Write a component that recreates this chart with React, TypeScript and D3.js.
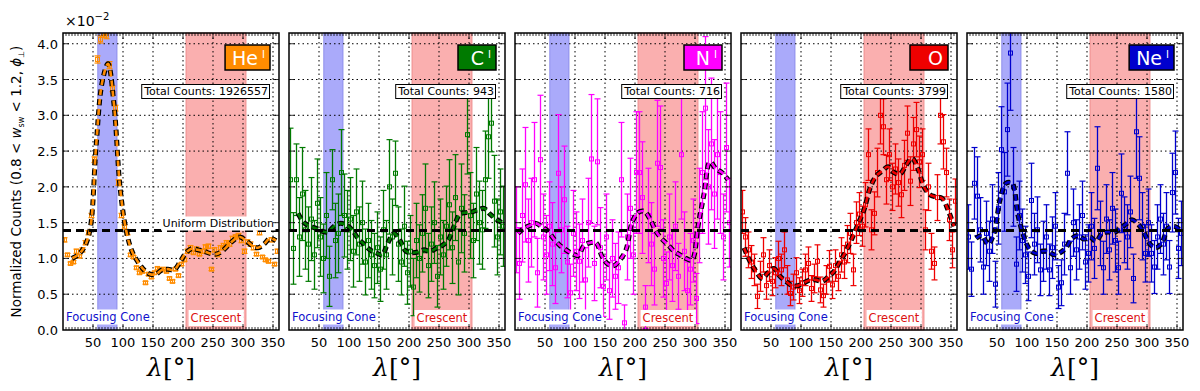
import React, { useEffect, useRef } from "react";
import * as d3 from "d3";

// bin centres (5 deg bins) and the 10 deg grid of the smoothed curve
const bins = d3.range(2.5, 360, 5);
const smoothBins = d3.range(5, 360, 10);

const xTicks = [50, 100, 150, 200, 250, 300, 350];
const yTicks = [0, 0.5, 1.0, 1.5, 2.0, 2.5, 3.0, 3.5, 4.0];

const ions = ["He", "C", "N", "O", "Ne"];
const ionSup = ["I", "I", "I", "", "I"];
const totalCounts = [1926557, 943, 716, 3799, 1580];
const ionColors = ["#ff8c00", "#007a00", "#ff00ff", "#ee0000", "#0000cd"];

const uniformLevel = 1.389;
const focusingCone = [58, 90];
const crescent = [205, 305];

// He (x1e-2)
const heVal = [1.26, 1.05, 0.93, 0.95, 1.1, 1.03, 1.12, 1.22, 1.36, 1.6, 2.38, 3.78, 4.06, 4.14, 4.12, 3.7, 3.37, 3.1, 2.06, 1.6, 1.44, 1.36, 1.05, 1.02, 0.87, 0.8, 0.82, 0.66, 0.78, 0.74, 0.8, 0.86, 0.84, 0.85, 0.82, 0.72, 0.68, 0.85, 0.76, 0.92, 0.98, 1.1, 1.15, 1.08, 1.13, 1.06, 1.1, 1.16, 1.17, 0.85, 1.12, 1.05, 1.15, 1.18, 1.22, 1.2, 1.28, 1.3, 1.32, 1.25, 1.1, 1.23, 1.2, 1.15, 1.06, 1.36, 1.02, 0.98, 0.96, 1.26, 0.92, 1.1];
const heErr = [0.03, 0.02, 0.02, 0.02, 0.03, 0.02, 0.03, 0.03, 0.03, 0.03, 0.04, 0.05, 0.05, 0.05, 0.05, 0.05, 0.04, 0.04, 0.04, 0.03, 0.03, 0.03, 0.02, 0.02, 0.02, 0.02, 0.02, 0.02, 0.02, 0.02, 0.02, 0.02, 0.02, 0.02, 0.02, 0.02, 0.02, 0.02, 0.02, 0.02, 0.02, 0.03, 0.03, 0.02, 0.03, 0.02, 0.03, 0.03, 0.03, 0.02, 0.03, 0.02, 0.03, 0.03, 0.03, 0.03, 0.03, 0.03, 0.03, 0.03, 0.03, 0.03, 0.03, 0.03, 0.02, 0.03, 0.02, 0.02, 0.02, 0.03, 0.02, 0.03];
const heSmooth = [null, 1.0, 1.05, 1.15, 1.4, 2.55, 3.45, 3.72, 3.15, 2.0, 1.4, 1.1, 0.95, 0.84, 0.78, 0.78, 0.84, 0.85, 0.84, 0.95, 1.08, 1.14, 1.12, 1.1, 1.07, 1.06, 1.1, 1.18, 1.26, 1.3, 1.25, 1.18, 1.15, 1.2, 1.28, 1.25];

// C
const cVal = [2.1, 1.14, 2.1, 1.3, 1.9, 1.4, 1.2, 1.55, 1.05, 1.77, 1.3, 1.0, 1.6, 0.75, 2.1, 1.25, 1.35, 2.2, 1.6, 1.4, 1.55, 1.1, 1.65, 1.2, 1.5, 0.95, 1.25, 1.05, 0.9, 1.15, 0.85, 1.4, 1.05, 2.0, 1.3, 2.19, 1.2, 0.95, 1.45, 0.8, 1.1, 0.6, 1.25, 1.0, 1.35, 1.7, 0.9, 1.2, 1.5, 0.75, 1.3, 1.05, 1.45, 1.75, 1.15, 1.85, 0.95, 1.7, 1.35, 2.73, 1.6, 1.25, 1.9, 1.5, 1.4, 2.1, 2.7, 2.89, 1.8, 1.3, 1.65, 1.45];
const cErr = [0.72, 0.5, 0.5, 0.55, 0.65, 0.55, 0.52, 0.58, 0.48, 0.62, 0.55, 0.48, 0.6, 0.42, 0.42, 0.52, 0.55, 0.6, 0.58, 0.55, 0.58, 0.5, 0.6, 0.52, 0.58, 0.46, 0.52, 0.48, 0.45, 0.5, 0.45, 0.55, 0.48, 0.66, 0.53, 0.45, 0.52, 0.46, 0.56, 0.44, 0.5, 0.4, 0.52, 0.47, 0.54, 0.62, 0.45, 0.52, 0.57, 0.43, 0.53, 0.48, 0.56, 0.63, 0.5, 0.6, 0.46, 0.62, 0.54, 0.55, 0.6, 0.52, 0.65, 0.58, 0.55, 0.68, 0.58, 0.4, 0.64, 0.53, 0.6, 0.56];
const cSmooth = [null, 1.63, 1.5, 1.45, 1.42, 1.38, 1.37, 1.45, 1.49, 1.47, 1.4, 1.28, 1.2, 1.12, 1.08, 1.05, 1.22, 1.35, 1.25, 1.1, 1.08, 1.09, 1.12, 1.1, 1.14, 1.18, 1.25, 1.45, 1.62, 1.64, 1.65, 1.68, 1.7, 1.62, 1.55, 1.5];

// N
const nVal = [1.4, 0.93, 1.6, 2.03, 1.25, 1.5, 2.1, 0.8, 2.38, 1.3, 1.05, 1.45, 1.2, 0.87, 2.19, 1.4, 1.82, 0.95, 0.52, 1.35, 1.1, 0.96, 1.25, 0.7, 1.5, 2.39, 0.93, 2.35, 1.15, 0.61, 1.3, 0.55, 1.0, 0.75, 0.87, 2.1, 0.1, 1.3, 1.7, 1.05, 2.2, 2.2, 1.85, 0.32, 1.6, 1.2, 0.85, 2.33, 2.27, 1.0, 0.65, 1.3, 0.9, 1.45, 0.75, 2.45, 1.1, 0.55, 0.85, 1.25, 0.44, 1.6, 2.2, 3.1, 2.0, 2.6, 1.9, 2.45, 2.2, 1.3, 2.55, 1.5];
const nErr = [0.6, 0.5, 0.65, 0.8, 0.58, 0.62, 0.8, 0.48, 0.9, 0.6, 0.55, 0.62, 0.58, 0.5, 0.82, 0.6, 0.75, 0.5, 0.4, 0.6, 0.55, 0.52, 0.58, 0.45, 0.62, 0.9, 0.52, 0.88, 0.56, 0.42, 0.6, 0.4, 0.54, 0.46, 0.5, 0.8, 0.25, 0.6, 0.7, 0.55, 0.85, 0.85, 0.78, 0.3, 0.66, 0.58, 0.5, 0.88, 0.86, 0.54, 0.44, 0.6, 0.5, 0.62, 0.46, 0.9, 0.55, 0.4, 0.5, 0.58, 0.35, 0.66, 0.85, 1.0, 0.8, 0.92, 0.76, 0.9, 0.85, 0.6, 0.9, 0.62];
const nSmooth = [1.35, 1.42, 1.46, 1.49, 1.44, 1.38, 1.27, 1.18, 1.12, 1.07, 1.04, 1.18, 1.22, 1.22, 1.03, 0.92, 0.9, 0.98, 1.12, 1.5, 1.64, 1.66, 1.55, 1.38, 1.27, 1.19, 1.1, 1.05, 1.0, 0.98, 1.45, 1.9, 2.35, 2.25, 2.2, 2.1];

// O
const oVal = [1.65, 1.3, 1.12, 0.95, 0.84, 0.47, 0.75, 1.05, 0.62, 0.9, 0.68, 0.8, 1.0, 0.84, 1.12, 0.7, 0.51, 0.6, 0.8, 0.55, 0.66, 0.84, 0.93, 0.58, 0.72, 0.96, 0.56, 0.48, 0.7, 0.89, 0.63, 0.9, 0.75, 1.05, 0.95, 1.2, 1.35, 0.84, 1.5, 1.62, 1.45, 1.75, 2.45, 1.4, 1.63, 2.2, 3.0, 2.84, 2.1, 2.45, 2.0, 2.25, 2.06, 1.89, 2.3, 2.75, 2.08, 2.6, 2.8, 2.35, 2.45, 1.4, 2.0, 1.1, 0.93, 1.85, 3.0, 2.63, 2.2, 1.54, 1.12, 1.8];
const oErr = [0.3, 0.27, 0.25, 0.23, 0.22, 0.17, 0.21, 0.24, 0.19, 0.22, 0.2, 0.21, 0.24, 0.22, 0.25, 0.2, 0.17, 0.18, 0.21, 0.18, 0.19, 0.22, 0.23, 0.18, 0.2, 0.23, 0.18, 0.16, 0.2, 0.22, 0.19, 0.22, 0.2, 0.24, 0.23, 0.26, 0.28, 0.22, 0.29, 0.3, 0.28, 0.31, 0.36, 0.28, 0.3, 0.34, 0.4, 0.39, 0.34, 0.36, 0.33, 0.35, 0.33, 0.32, 0.35, 0.38, 0.34, 0.37, 0.38, 0.36, 0.36, 0.28, 0.33, 0.25, 0.23, 0.32, 0.4, 0.38, 0.34, 0.29, 0.25, 0.31];
const oSmooth = [1.15, 0.96, 0.82, 0.72, 0.8, 0.86, 0.75, 0.68, 0.62, 0.62, 0.66, 0.7, 0.7, 0.68, 0.74, 0.82, 0.96, 1.1, 1.28, 1.48, 1.68, 1.98, 2.15, 2.22, 2.28, 2.2, 2.18, 2.3, 2.4, 2.25, 2.0, 1.89, 1.86, 1.84, 1.68, 1.45];

// Ne
const neVal = [1.3, 0.85, 2.05, 1.87, 1.4, 0.88, 1.35, 1.1, 1.55, 0.64, 1.7, 2.52, 1.93, 2.8, 3.87, 2.0, 0.92, 1.6, 1.25, 1.05, 0.75, 1.81, 1.2, 1.4, 0.84, 1.1, 1.3, 0.84, 1.15, 1.45, 0.6, 0.66, 1.2, 2.19, 0.87, 1.5, 1.12, 1.3, 1.6, 0.95, 1.07, 1.45, 1.14, 2.26, 1.35, 0.87, 1.55, 1.12, 1.7, 1.25, 0.87, 1.91, 1.4, 1.3, 1.65, 0.72, 2.77, 2.12, 1.45, 1.07, 1.5, 1.07, 0.88, 1.3, 1.55, 1.2, 1.45, 0.88, 1.92, 2.2, 1.14, 1.35];
const neErr = [0.45, 0.38, 0.5, 0.55, 0.45, 0.38, 0.45, 0.42, 0.48, 0.32, 0.5, 0.6, 0.55, 0.65, 0.8, 0.55, 0.38, 0.48, 0.44, 0.4, 0.34, 0.52, 0.43, 0.46, 0.36, 0.42, 0.45, 0.36, 0.43, 0.47, 0.3, 0.32, 0.43, 0.58, 0.37, 0.47, 0.42, 0.45, 0.48, 0.38, 0.4, 0.47, 0.42, 0.58, 0.45, 0.37, 0.48, 0.42, 0.5, 0.44, 0.37, 0.55, 0.46, 0.45, 0.5, 0.34, 0.65, 0.58, 0.47, 0.4, 0.47, 0.4, 0.37, 0.45, 0.48, 0.43, 0.47, 0.37, 0.55, 0.58, 0.42, 0.45];
const neSmooth = [null, 1.28, 1.32, 1.2, 1.35, 1.82, 2.05, 2.05, 1.6, 1.3, 1.12, 1.07, 1.1, 1.1, 1.05, 1.08, 1.15, 1.28, 1.32, 1.27, 1.3, 1.24, 1.35, 1.37, 1.36, 1.42, 1.48, 1.54, 1.48, 1.36, 1.2, 1.15, 1.22, 1.42, 1.45, 1.4];

const values = [heVal, cVal, nVal, oVal, neVal];
const errors = [heErr, cErr, nErr, oErr, neErr];
const smooths = [heSmooth, cSmooth, nSmooth, oSmooth, neSmooth];

const W = 1200;
const H = 391;

const App = () => {
  const svgRef = useRef(null);

  useEffect(() => {
    const svg = d3.select(svgRef.current);
    svg.selectAll("*").remove();

    const font = "DejaVu Sans, sans-serif";
    const top = 33;
    const bottom = 330;
    const panelW = 216;
    const step = 226;
    const y = d3.scaleLinear().domain([0, 4.15]).range([bottom, top]);

    ions.forEach((ion, i) => {
      const left = 63 + i * step;
      const right = left + panelW;
      const x = d3.scaleLinear().domain([0, 360]).range([left, right]);
      const color = ionColors[i];
      const g = svg.append("g");

      const clipId = `clip-${i}`;
      g.append("clipPath").attr("id", clipId)
        .append("rect").attr("x", left).attr("y", top).attr("width", panelW).attr("height", bottom - top);

      // shaded regions
      g.append("rect")
        .attr("x", x(focusingCone[0])).attr("y", top)
        .attr("width", x(focusingCone[1]) - x(focusingCone[0])).attr("height", bottom - top)
        .attr("fill", "rgb(170,170,250)").attr("stroke", "rgb(130,130,230)").attr("stroke-width", 0.8);
      g.append("rect")
        .attr("x", x(crescent[0])).attr("y", top)
        .attr("width", x(crescent[1]) - x(crescent[0])).attr("height", bottom - top)
        .attr("fill", "rgb(250,175,175)").attr("stroke", "rgb(235,130,130)").attr("stroke-width", 0.8);

      // grid
      g.selectAll(".gx").data(xTicks).join("line")
        .attr("x1", (d) => x(d)).attr("x2", (d) => x(d))
        .attr("y1", top).attr("y2", bottom)
        .attr("stroke", "#000").attr("stroke-width", 1).attr("stroke-dasharray", "1.5,3");
      g.selectAll(".gy").data(yTicks.slice(1)).join("line")
        .attr("x1", left).attr("x2", right)
        .attr("y1", (d) => y(d)).attr("y2", (d) => y(d))
        .attr("stroke", "#000").attr("stroke-width", 1).attr("stroke-dasharray", "1.5,3");

      // data
      const data = bins.map((b, k) => ({ b, v: values[i][k], e: errors[i][k] }));
      const dg = g.append("g").attr("clip-path", `url(#${clipId})`);
      dg.selectAll(".eb").data(data).join("line")
        .attr("x1", (d) => x(d.b)).attr("x2", (d) => x(d.b))
        .attr("y1", (d) => y(d.v - d.e)).attr("y2", (d) => y(d.v + d.e))
        .attr("stroke", color).attr("stroke-width", 1.3);
      dg.selectAll(".cap").data(data.flatMap((d) => [{ b: d.b, v: d.v - d.e }, { b: d.b, v: d.v + d.e }])).join("line")
        .attr("x1", (d) => x(d.b) - 3).attr("x2", (d) => x(d.b) + 3)
        .attr("y1", (d) => y(d.v)).attr("y2", (d) => y(d.v))
        .attr("stroke", color).attr("stroke-width", 1.2);
      dg.selectAll(".mk").data(data).join("rect")
        .attr("x", (d) => x(d.b) - 2).attr("y", (d) => y(d.v) - 2)
        .attr("width", 4).attr("height", 4)
        .attr("fill", "none").attr("stroke", color).attr("stroke-width", 1);

      // smoothed curve
      const sm = smoothBins.map((b, k) => ({ b, v: smooths[i][k] }));
      const line = d3.line<any>()
        .defined((d) => d.v !== null)
        .x((d) => x(d.b)).y((d) => y(d.v))
        .curve(d3.curveCatmullRom);
      dg.append("path").datum(sm).attr("d", line)
        .attr("fill", "none").attr("stroke", "#000").attr("stroke-width", 5)
        .attr("stroke-dasharray", "6,4");
      dg.append("path").datum(sm).attr("d", line)
        .attr("fill", "none").attr("stroke", color).attr("stroke-width", 2.6)
        .attr("stroke-dasharray", "6,4").attr("stroke-dashoffset", -0.5);

      // uniform distribution
      g.append("line")
        .attr("x1", left).attr("x2", right)
        .attr("y1", y(uniformLevel)).attr("y2", y(uniformLevel))
        .attr("stroke", "#000").attr("stroke-width", 3).attr("stroke-dasharray", "8,5");

      const boxed = (txt, tx, ty, anchor, fill, size, pad, border) => {
        const bg = g.append("rect");
        const t = g.append("text")
          .attr("x", tx).attr("y", ty).attr("text-anchor", anchor)
          .attr("font-family", font).attr("font-size", size).attr("fill", fill)
          .text(txt);
        const bb = (t.node() as SVGTextElement).getBBox();
        bg.attr("x", bb.x - pad).attr("y", bb.y - pad + 1)
          .attr("width", bb.width + pad * 2).attr("height", bb.height + pad * 2 - 2)
          .attr("fill", "#fff").attr("stroke", border ? "#000" : "none").attr("stroke-width", 1);
        return t;
      };

      if (i === 0) {
        boxed("Uniform Distribution", right - 5, 227, "end", "#000", 11, 1.5, false);
      }
      boxed("Focusing Cone", left + 3, 321, "start", "#1010cc", 11.5, 1.5, false);
      boxed("Crescent", x(255), 322, "middle", "#dd1111", 11.5, 2, false);
      boxed(`Total Counts: ${totalCounts[i]}`, right - 11, 95, "end", "#000", 11, 1.5, true);

      // ion label box
      const lb = g.append("rect");
      const lt = g.append("text")
        .attr("x", right - 14).attr("y", 65).attr("text-anchor", "end")
        .attr("font-family", font).attr("font-size", 19).attr("fill", "#fff");
      lt.append("tspan").text(ion);
      if (ionSup[i]) {
        lt.append("tspan").attr("dx", 4).attr("dy", -7).attr("font-size", 10).text(ionSup[i]);
      }
      const lbb = (lt.node() as SVGTextElement).getBBox();
      const bw = Math.max(lbb.width + 12, 38);
      lb.attr("x", right - 9 - bw).attr("y", 45).attr("width", bw).attr("height", 25)
        .attr("fill", color).attr("stroke", "#000").attr("stroke-width", 1.5);

      // frame
      g.append("rect")
        .attr("x", left).attr("y", top).attr("width", panelW).attr("height", bottom - top)
        .attr("fill", "none").attr("stroke", "#000").attr("stroke-width", 1.5);

      // ticks
      const minor = d3.range(5, 360, 5);
      g.selectAll(".mt").data(minor).join("path")
        .attr("d", (d) => {
          const len = d % 50 === 0 ? 6 : 3;
          return `M${x(d)},${bottom}v${-len}M${x(d)},${top}v${len}`;
        })
        .attr("stroke", "#000").attr("stroke-width", 0.8);
      g.selectAll(".yt").data(yTicks.slice(1)).join("path")
        .attr("d", (d) => `M${left},${y(d)}h6M${right},${y(d)}h-6`)
        .attr("stroke", "#000").attr("stroke-width", 0.8);

      g.selectAll(".xl").data(xTicks).join("text")
        .attr("x", (d) => x(d)).attr("y", 347).attr("text-anchor", "middle")
        .attr("font-family", font).attr("font-size", 13).attr("fill", "#000")
        .text((d) => d);

      if (i === 0) {
        g.selectAll(".yl").data(yTicks).join("text")
          .attr("x", left - 5).attr("y", (d) => y(d) + 5).attr("text-anchor", "end")
          .attr("font-family", font).attr("font-size", 13).attr("fill", "#000")
          .text((d) => d3.format(".1f")(d));
        const m = g.append("text").attr("x", left + 2).attr("y", 26)
          .attr("font-family", font).attr("font-size", 14).attr("fill", "#000");
        m.append("tspan").text("×10");
        m.append("tspan").attr("dy", -6).attr("font-size", 10).text("−2");
      }

      // x label
      const xl = g.append("text")
        .attr("x", (left + right) / 2).attr("y", 376).attr("text-anchor", "middle")
        .attr("font-family", "DejaVu Serif, serif").attr("font-size", 25).attr("fill", "#000");
      xl.append("tspan").attr("font-style", "italic").text("λ");
      xl.append("tspan").text("[°]");
    });

    // y label
    const yl = svg.append("text")
      .attr("transform", `translate(21,${(top + bottom) / 2}) rotate(-90)`)
      .attr("text-anchor", "middle")
      .attr("font-family", font).attr("font-size", 13.5).attr("fill", "#000");
    yl.append("tspan").text("Normalized Counts (0.8 < ");
    yl.append("tspan").attr("font-style", "italic").text("w");
    yl.append("tspan").attr("font-size", 8).attr("dy", 3).text("sw");
    yl.append("tspan").attr("dy", -3).text(" < 1.2, ");
    yl.append("tspan").attr("font-style", "italic").text("ϕ");
    yl.append("tspan").attr("font-size", 8).attr("dy", 3).text("⊥");
    yl.append("tspan").attr("dy", -3).text(")");
  }, []);

  return (
    <svg
      ref={svgRef}
      width={W}
      height={H}
      style={{ position: "absolute", left: 0, top: 0, background: "#fff" }}
    />
  );
};

export default App;
